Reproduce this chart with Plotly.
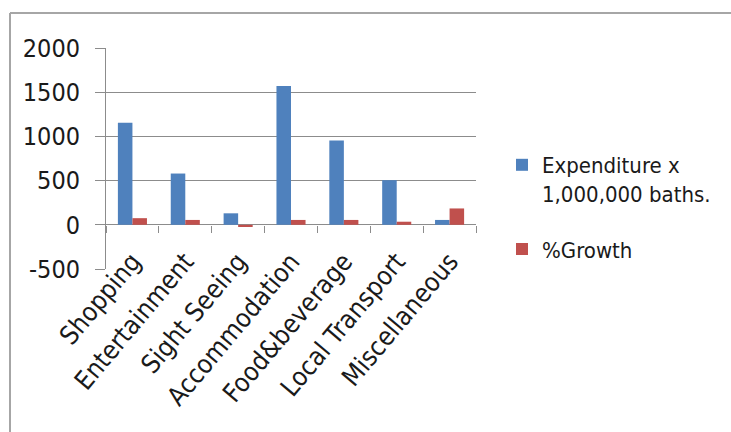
import plotly.graph_objects as go

categories = ["Shopping", "Entertainment", "Sight Seeing", "Accommodation",
              "Food&beverage", "Local Transport", "Miscellaneous"]
expenditure = [1155, 580, 130, 1570, 955, 505, 55]
growth = [75, 55, -25, 55, 55, 35, 185]
series_names = ["Expenditure x<br>1,000,000 baths.", "%Growth"]
y_ticks = [-500, 0, 500, 1000, 1500, 2000]
y_tick_text = ["-500", "0", "500", "1000", "1500", "2000"]

FONT = "DejaVu Sans Condensed, Open Sans, sans-serif"
GRID = "#8c8c8c"

fig = go.Figure()
fig.add_trace(go.Bar(x=categories, y=expenditure, name=series_names[0],
                     marker=dict(color="#4F81BD", line=dict(width=0)),
                     legendgroup="a"))
fig.add_trace(go.Bar(x=categories, y=growth, name=series_names[1],
                     marker=dict(color="#C0504D", line=dict(width=0)),
                     legendgroup="b"))

W, H = 731, 432
L, R, T, B = 106, 255, 48, 163
pw, ph = W - L - R, H - T - B

def px_to_paper_x(p):
    return (p - L) / pw

def px_to_paper_y(p):
    return (H - B - p) / ph

fig.update_layout(
    width=W, height=H,
    margin=dict(l=L, r=R, t=T, b=B, pad=0),
    paper_bgcolor="white", plot_bgcolor="white",
    font=dict(family=FONT, size=22, color="#1a1a1a"),
    barmode="group", bargap=0.45, bargroupgap=0,
    showlegend=True,
    legend=dict(x=px_to_paper_x(502), y=px_to_paper_y(144), xanchor="left", yanchor="top",
                valign="top", traceorder="grouped", tracegroupgap=24,
                font=dict(family=FONT, size=22, color="#1a1a1a"),
                bgcolor="rgba(0,0,0,0)", itemwidth=30),
    xaxis=dict(type="category", categoryorder="array", categoryarray=categories,
               range=[-0.5, 6.5], tickangle=-50, showgrid=False, showline=False,
               zeroline=False, ticks="", anchor="free", position=px_to_paper_y(240),
               tickfont=dict(family=FONT, size=26)),
    xaxis2=dict(overlaying="x", anchor="free", position=px_to_paper_y(225),
                side="bottom", range=[-0.5, 6.5], tick0=-0.5, dtick=1,
                ticks="outside", ticklen=7, tickcolor=GRID, tickwidth=1,
                showticklabels=False, showgrid=False, zeroline=False, showline=False),
    yaxis=dict(range=[-500, 2000], tickvals=y_ticks, ticktext=y_tick_text,
               showgrid=True, gridcolor=GRID,
               gridwidth=1, zeroline=True, zerolinecolor=GRID, zerolinewidth=1,
               showline=True, linecolor=GRID, linewidth=1, ticks="outside",
               ticklen=10, tickcolor=GRID, ticklabelstandoff=10,
               tickfont=dict(family=FONT, size=25)),
)

# dummy trace to activate xaxis2
fig.add_trace(go.Scatter(x=[], y=[], xaxis="x2", showlegend=False, hoverinfo="skip"))

# outer chart frame (top and left edges visible)
fig.add_shape(type="line", xref="paper", yref="paper",
              x0=px_to_paper_x(10), x1=px_to_paper_x(740),
              y0=px_to_paper_y(13), y1=px_to_paper_y(13),
              line=dict(color="#a6a6a6", width=2))
fig.add_shape(type="line", xref="paper", yref="paper",
              x0=px_to_paper_x(10), x1=px_to_paper_x(10),
              y0=px_to_paper_y(13), y1=px_to_paper_y(440),
              line=dict(color="#a6a6a6", width=2))

fig.write_html("out.html")
